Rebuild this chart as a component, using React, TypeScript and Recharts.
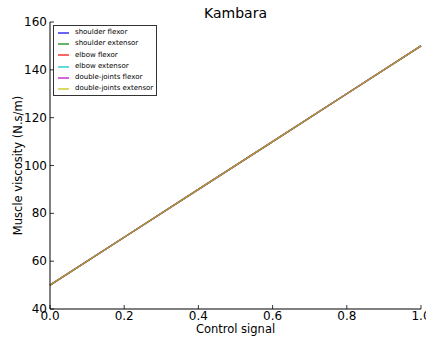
import { LineChart, Line, XAxis, YAxis } from 'recharts'

const controlSignal = [0, 0.2, 0.4, 0.6, 0.8, 1.0]
const shoulderFlexor = [50, 70, 90, 110, 130, 150]
const shoulderExtensor = [50, 70, 90, 110, 130, 150]
const elbowFlexor = [50, 70, 90, 110, 130, 150]
const elbowExtensor = [50, 70, 90, 110, 130, 150]
const doubleFlexor = [50, 70, 90, 110, 130, 150]
const doubleExtensor = [50, 70, 90, 110, 130, 150]

const xTicks = [0, 0.2, 0.4, 0.6, 0.8, 1.0]
const yTicks = [40, 60, 80, 100, 120, 140, 160]

const SERIES = [
  { key: 'sf', name: 'shoulder flexor', color: '#0000ff', values: shoulderFlexor },
  { key: 'se', name: 'shoulder extensor', color: '#008000', values: shoulderExtensor },
  { key: 'ef', name: 'elbow flexor', color: '#ff0000', values: elbowFlexor },
  { key: 'ee', name: 'elbow extensor', color: '#00bfbf', values: elbowExtensor },
  { key: 'df', name: 'double-joints flexor', color: '#bf00bf', values: doubleFlexor },
  { key: 'de', name: 'double-joints extensor', color: '#bfbf00', values: doubleExtensor },
]

const data = controlSignal.map((x, i) => {
  const row: Record<string, number> = { x }
  SERIES.forEach(s => { row[s.key] = s.values[i] })
  return row
})

const FONT = 'DejaVu Sans, sans-serif'
const W = 426
const H = 338
const PLOT = { left: 50, right: 421, top: 22, bottom: 309 }

function BottomTick({ x, y, payload }: any) {
  return (
    <g>
      <line x1={x} x2={x} y1={y} y2={y - 4} stroke="#000" strokeWidth={0.8} />
      <text x={x} y={y + 11} textAnchor="middle" fontSize={12} fontFamily={FONT} fill="#000">
        {Number(payload.value).toFixed(1)}
      </text>
    </g>
  )
}

function LeftTick({ x, y, payload }: any) {
  return (
    <g>
      <line x1={x} x2={x + 4} y1={y} y2={y} stroke="#000" strokeWidth={0.8} />
      <text x={x - 3} y={y + 4} textAnchor="end" fontSize={12} fontFamily={FONT} fill="#000">
        {payload.value}
      </text>
    </g>
  )
}

function TopTick({ x, y }: any) {
  return <line x1={x} x2={x} y1={y} y2={y + 4} stroke="#000" strokeWidth={0.8} />
}

function RightTick({ x, y }: any) {
  return <line x1={x} x2={x - 4} y1={y} y2={y} stroke="#000" strokeWidth={0.8} />
}

function LegendBox() {
  return (
    <div style={{
      position: 'absolute', left: 53, top: 25, boxSizing: 'border-box', width: 104, height: 71,
      border: '1px solid #333', background: '#fff', padding: '1px 0 0 4px',
      fontFamily: FONT, fontSize: 7, lineHeight: '11.3px',
    }}>
      {SERIES.map(s => (
        <div key={s.key} style={{ display: 'flex', alignItems: 'center', whiteSpace: 'nowrap' }}>
          <span style={{
            display: 'inline-block', flexShrink: 0, width: 11, height: 2,
            background: s.color, opacity: 0.6, marginRight: 6,
          }} />
          <span>{s.name}</span>
        </div>
      ))}
    </div>
  )
}

export default function App() {
  return (
    <div style={{ position: 'absolute', left: 0, top: 0, width: W, height: H, background: '#fff' }}>
      <LineChart width={W} height={H} data={data}
        margin={{ top: PLOT.top, right: W - PLOT.right, bottom: 0, left: 0 }}>
        <XAxis xAxisId="b" dataKey="x" type="number" domain={[0, 1]} ticks={xTicks}
          height={H - PLOT.bottom} tickSize={0} tickMargin={0} tickLine={false}
          axisLine={{ stroke: '#000' }} tick={<BottomTick />} interval={0} />
        <XAxis xAxisId="t" orientation="top" dataKey="x" type="number" domain={[0, 1]} ticks={xTicks}
          height={0} tickSize={0} tickMargin={0} tickLine={false}
          axisLine={{ stroke: '#000' }} tick={<TopTick />} interval={0} />
        <YAxis yAxisId="l" type="number" domain={[40, 160]} ticks={yTicks}
          width={PLOT.left} tickSize={0} tickMargin={0} tickLine={false}
          axisLine={{ stroke: '#000' }} tick={<LeftTick />} interval={0} />
        <YAxis yAxisId="r" orientation="right" type="number" domain={[40, 160]} ticks={yTicks}
          width={0} tickSize={0} tickMargin={0} tickLine={false}
          axisLine={{ stroke: '#000' }} tick={<RightTick />} interval={0} />
        {SERIES.map(s => (
          <Line key={s.key} xAxisId="b" yAxisId="l" type="linear" dataKey={s.key} name={s.name}
            stroke={s.color} strokeOpacity={0.75} strokeWidth={1.3} dot={false}
            isAnimationActive={false} />
        ))}
        <text x={(PLOT.left + PLOT.right) / 2} y={18} textAnchor="middle" fontSize={14}
          fontFamily={FONT} fill="#000">Kambara</text>
        <text x={(PLOT.left + PLOT.right) / 2} y={333} textAnchor="middle" fontSize={11.5}
          fontFamily={FONT} fill="#000">Control signal</text>
        <text x={22} y={(PLOT.top + PLOT.bottom) / 2} textAnchor="middle" fontSize={11.5}
          fontFamily={FONT} fill="#000"
          transform={`rotate(-90 22 ${(PLOT.top + PLOT.bottom) / 2})`}>Muscle viscosity (N.s/m)</text>
      </LineChart>
      <LegendBox />
    </div>
  )
}
